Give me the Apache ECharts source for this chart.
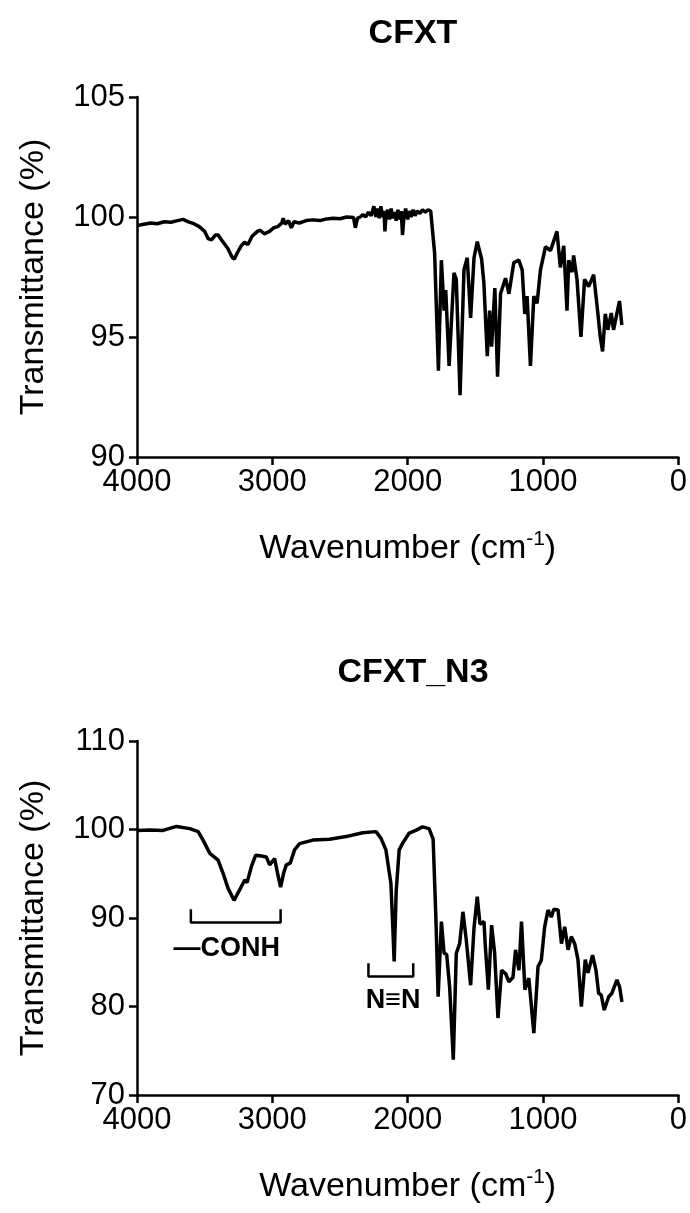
<!DOCTYPE html>
<html>
<head>
<meta charset="utf-8">
<title>FTIR CFXT / CFXT_N3</title>
<script src="https://cdn.jsdelivr.net/npm/echarts@6/dist/echarts.min.js"></script>
<style>
  html, body { margin: 0; padding: 0; background: #fff; }
  #chart { width: 690px; height: 1213px; }
</style>
</head>
<body>
<div id="chart"></div>
<script>
// CFXT spectrum (wavenumber cm-1, transmittance %)
var cfxtWn = [3990, 3950, 3900, 3850, 3800, 3750, 3700, 3660, 3620, 3580, 3540, 3500, 3475, 3450, 3420, 3400, 3370, 3330, 3295, 3280, 3260, 3230, 3205, 3180, 3150, 3110, 3090, 3060, 3020, 2990, 2960, 2930, 2920, 2905, 2880, 2860, 2840, 2800, 2750, 2700, 2650, 2600, 2550, 2500, 2450, 2400,
  2387, 2370, 2350, 2330, 2310, 2290, 2270, 2250, 2235, 2222, 2210, 2198, 2185, 2175, 2168, 2160, 2148, 2135, 2122, 2110, 2098, 2085, 2072, 2060, 2048, 2038, 2028, 2015, 2000, 1988, 1975, 1960, 1945, 1930, 1910, 1890, 1870, 1850, 1830, 1820,
  1801, 1773, 1751, 1731, 1719, 1694, 1658, 1641, 1613, 1584, 1560, 1535, 1510, 1486, 1454, 1437, 1412, 1395, 1380, 1356, 1336, 1314, 1277, 1252, 1216, 1179, 1154, 1135, 1118, 1093, 1068, 1044, 1019, 982, 945, 897, 872, 847, 823, 810, 786, 774, 749, 720, 693, 663, 626, 597, 577, 560, 540, 521, 496, 479, 455, 435, 418];
var cfxtT = [99.65, 99.7, 99.75, 99.72, 99.8, 99.78, 99.85, 99.9, 99.8, 99.72, 99.6, 99.4, 99.1, 99.05, 99.25, 99.25, 99.0, 98.7, 98.3, 98.25, 98.5, 98.8, 98.95, 98.85, 99.2, 99.4, 99.45, 99.3, 99.4, 99.55, 99.6, 99.75, 99.95, 99.7, 99.85, 99.55, 99.8, 99.75, 99.85, 99.88, 99.85, 99.92, 99.95, 99.93, 100.0, 99.98,
  99.55, 99.95, 100.0, 100.1, 100.0, 100.2, 100.05, 100.45, 100.0, 100.35, 99.95, 100.45, 100.0, 100.25, 99.4, 100.1, 100.3, 99.9, 100.35, 99.95, 100.2, 99.85, 100.3, 99.9, 100.25, 99.25, 100.0, 100.35, 99.9, 100.25, 100.0, 100.3, 100.05, 100.25, 100.15, 100.3, 100.2, 100.3, 100.25, 100.3,
  98.5, 93.6, 98.2, 96.1, 96.96, 93.8, 97.67, 97.4, 92.58, 97.8, 98.3, 95.8, 98.3, 98.97, 98.25, 97.25, 94.2, 96.1, 94.6, 97.04, 93.35, 96.8, 97.45, 96.8, 98.1, 98.2, 97.8, 95.96, 96.7, 93.8, 96.7, 96.4, 97.8, 98.76, 98.6, 99.4, 97.9, 98.8, 96.1, 98.2, 97.7, 98.4, 97.4, 95.0, 97.4, 97.1, 97.6, 96.1, 95.0, 94.4, 95.96, 95.3, 96.0, 95.3, 95.96, 96.5, 95.5];

// CFXT_N3 spectrum
var n3Wn = [3993, 3904, 3808, 3708, 3610, 3548, 3512, 3462, 3401, 3364, 3327, 3283, 3241, 3204, 3187, 3155, 3123, 3082, 3045, 3020, 2983, 2959, 2939, 2917, 2897, 2868, 2836, 2799, 2701, 2578, 2455, 2333, 2234, 2197, 2161, 2124, 2110, 2100, 2085, 2063, 2039, 1989, 1940, 1891, 1842, 1812,
  1792, 1775, 1751, 1731, 1712, 1690, 1663, 1641, 1616, 1592, 1567, 1535, 1510, 1486, 1466, 1436, 1428, 1404, 1380, 1358, 1333, 1306, 1276, 1252, 1222, 1203, 1178, 1159, 1134, 1105, 1068, 1037, 1013, 988, 963, 939, 921, 889, 864, 840, 815, 791, 766, 742, 717, 688, 668, 634, 609, 589, 570, 548, 515, 491, 454, 434, 417];
var n3T = [99.9, 99.95, 99.9, 100.35, 100.1, 99.75, 98.8, 97.3, 96.55, 95.05, 93.35, 92.0, 93.2, 94.3, 94.0, 95.8, 97.1, 97.0, 96.9, 96.0, 96.7, 94.86, 93.5, 95.05, 96.0, 96.2, 97.7, 98.4, 98.8, 98.9, 99.2, 99.64, 99.76, 99.0, 97.7, 93.9, 89.0, 85.1, 93.0, 97.7, 98.4, 99.6, 99.9, 100.3, 100.1, 98.9,
  90.15, 81.1, 89.6, 86.0, 85.9, 82.2, 74.0, 86.0, 87.1, 90.7, 87.5, 82.4, 88.9, 92.4, 89.3, 89.6, 87.2, 81.9, 89.2, 86.1, 78.7, 84.1, 83.7, 82.8, 83.3, 86.4, 84.1, 89.6, 81.9, 83.2, 77.0, 84.5, 85.2, 89.0, 90.9, 90.1, 91.0, 90.9, 87.1, 89.0, 86.4, 87.9, 87.1, 85.3, 80.0, 85.3, 83.8, 85.8, 84.1, 81.5, 81.3, 79.6, 81.1, 81.5, 83.0, 82.2, 80.5];

// annotations on the CFXT_N3 panel
var conhBracketWn = [3602, 3602, 2939, 2939];
var conhBracketT = [91.0, 89.5, 89.5, 91.0];
var conhLabel = ['\u2014CONH', 3337, 86.6];
var n3BracketWn = [2290, 2290, 1959, 1959];
var n3BracketT = [84.9, 83.4, 83.4, 84.9];
var n3Label = ['N\u2261N', 2107, 80.7];

var titles = ['CFXT', 'CFXT_N3'];
var xTitle = 'Wavenumber (cm{sup|-1})';
var yTitle = 'Transmittance (%)';

function zip(a, b) {
  var out = [];
  for (var i = 0; i < a.length; i++) out.push([a[i], b[i]]);
  return out;
}

var font = 'Liberation Sans, Arial, sans-serif';
var black = '#000';

function xAxisFor(idx) {
  return {
    gridIndex: idx, type: 'value', min: 0, max: 4000, interval: 1000, inverse: true,
    name: xTitle, nameLocation: 'middle', nameGap: 72,
    nameTextStyle: {
      color: black, fontFamily: font, fontSize: 34,
      rich: { sup: { fontSize: 21, verticalAlign: 'top', padding: [0, 0, 18, 0], color: black, fontFamily: font } }
    },
    axisLine: { onZero: false, lineStyle: { color: black, width: 2.5 } },
    axisTick: { length: 8, lineStyle: { color: black, width: 2.5 } },
    axisLabel: { color: black, fontFamily: font, fontSize: 31, margin: 10,
      formatter: function (v) { return String(v); } },
    splitLine: { show: false }
  };
}
function yAxisFor(idx, min, max, step) {
  return {
    gridIndex: idx, type: 'value', min: min, max: max, interval: step,
    name: yTitle, nameLocation: 'middle', nameGap: 86,
    nameTextStyle: { color: black, fontFamily: font, fontSize: 34 },
    axisLine: { show: true, onZero: false, lineStyle: { color: black, width: 2.5 } },
    axisTick: { show: true, length: 8, lineStyle: { color: black, width: 2.5 } },
    axisLabel: { color: black, fontFamily: font, fontSize: 31, margin: 12 },
    splitLine: { show: false }
  };
}

var chart = echarts.init(document.getElementById('chart'), null, { renderer: 'canvas' });
chart.setOption({
  backgroundColor: '#fff',
  animation: false,
  title: [
    { text: titles[0], left: 408, top: 12, textAlign: 'center',
      textStyle: { fontFamily: font, fontWeight: 'bold', fontSize: 34, color: black } },
    { text: titles[1], left: 408, top: 651, textAlign: 'center',
      textStyle: { fontFamily: font, fontWeight: 'bold', fontSize: 34, color: black } }
  ],
  grid: [
    { left: 137, right: 10, top: 97, height: 360 },
    { left: 137, right: 10, top: 741, height: 354 }
  ],
  xAxis: [xAxisFor(0), xAxisFor(1)],
  yAxis: [yAxisFor(0, 90, 105, 5), yAxisFor(1, 70, 110, 10)],
  series: [
    { type: 'line', xAxisIndex: 0, yAxisIndex: 0, data: zip(cfxtWn, cfxtT), showSymbol: false,
      lineStyle: { color: black, width: 3.5 }, silent: true },
    { type: 'line', xAxisIndex: 1, yAxisIndex: 1, data: zip(n3Wn, n3T), showSymbol: false,
      lineStyle: { color: black, width: 3.5 }, silent: true },
    { type: 'line', xAxisIndex: 1, yAxisIndex: 1, data: zip(conhBracketWn, conhBracketT), showSymbol: false,
      lineStyle: { color: black, width: 2.5 }, silent: true },
    { type: 'line', xAxisIndex: 1, yAxisIndex: 1, data: zip(n3BracketWn, n3BracketT), showSymbol: false,
      lineStyle: { color: black, width: 2.5 }, silent: true },
    { type: 'scatter', xAxisIndex: 1, yAxisIndex: 1, symbolSize: 0.5, silent: true,
      itemStyle: { color: '#fff', opacity: 1 },
      data: [[conhLabel[1], conhLabel[2], conhLabel[0]], [n3Label[1], n3Label[2], n3Label[0]]],
      label: { show: true, position: 'inside', formatter: function (p) { return p.value[2]; },
        color: '#000', opacity: 1, textBorderWidth: 0, fontFamily: font, fontWeight: 'bold', fontSize: 27 } }
  ]
});
</script>
</body>
</html>
